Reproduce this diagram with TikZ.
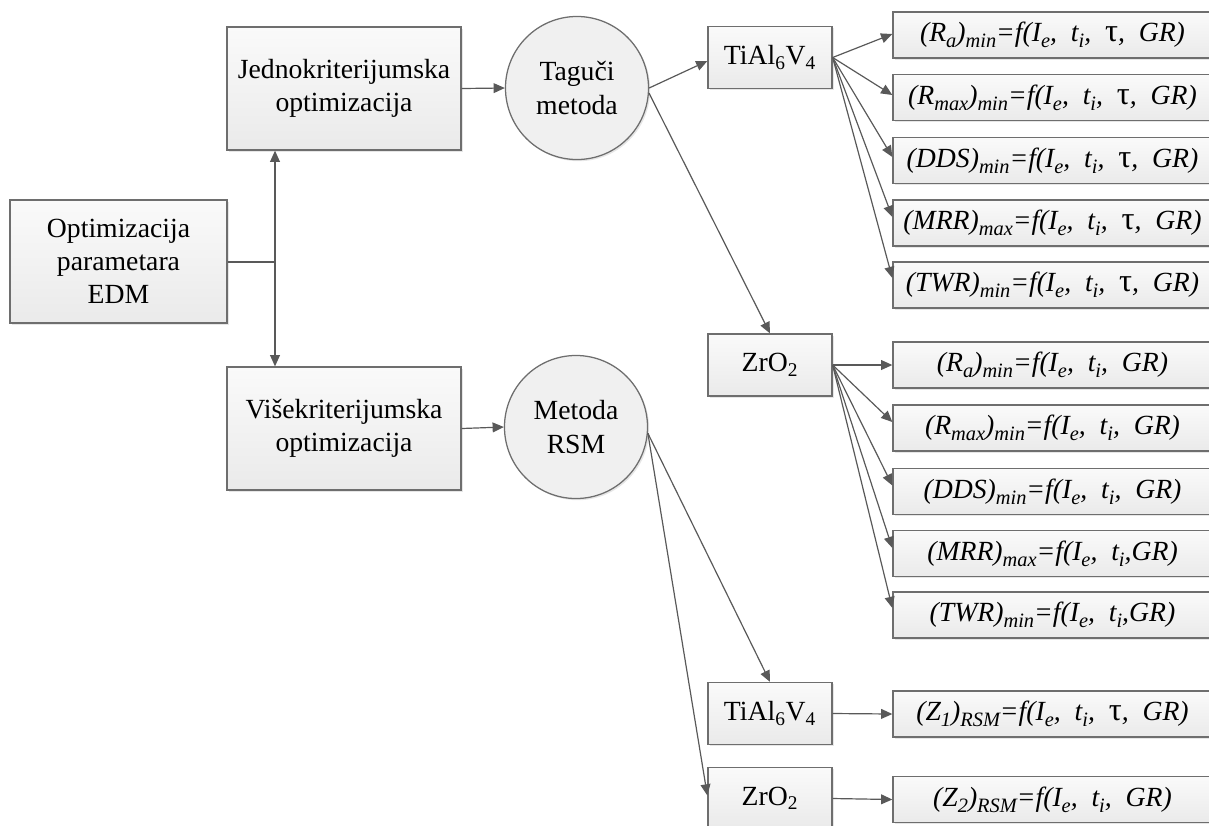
\documentclass[tikz,border=0pt]{standalone}
\usepackage{fontspec}
\setmainfont{Liberation Serif}
\usetikzlibrary{arrows.meta,shadows,calc}
\newcommand\lsb[1]{\raisebox{-0.45ex}{\fontsize{14.5}{15}\selectfont #1}}
\newcommand\wsp{\hspace{0.5em}}
\newcommand\tauu{{\upshape\fontsize{23}{23}\selectfont τ}}
\definecolor{bord}{HTML}{6E6E6E}
\definecolor{arrc}{HTML}{595959}
\definecolor{boxtop}{HTML}{FAFAFA}
\definecolor{boxbot}{HTML}{EAEAEA}
\definecolor{circf}{HTML}{F0F0F0}
\begin{document}
\begin{tikzpicture}[x=0.025cm,y=-0.025cm,
  every node/.style={font=\fontsize{19.7}{23.5}\selectfont},
  box/.style={draw=bord, line width=0.9pt, top color=boxtop, bottom color=boxbot,
    drop shadow={shadow xshift=1.2pt, shadow yshift=-1.2pt, opacity=0.2},
    align=center, inner sep=0pt},
  circ/.style={circle, draw=bord, line width=0.9pt, fill=circf, minimum size=3.575cm,
    inner sep=0pt, align=center,
    drop shadow={shadow xshift=1.2pt, shadow yshift=-1.2pt, opacity=0.2}},
  fbox/.style={box, minimum width=7.975cm, minimum height=1.15cm, font=\fontsize{19.7}{23.5}\selectfont\itshape},
  matbox/.style={box, minimum width=3.1cm, minimum height=1.55cm},
  arr/.style={draw=arrc, line width=0.85pt, -{Triangle[length=8pt,width=7pt]}},
  ln/.style={draw=arrc, line width=0.85pt}]
\useasboundingbox (0,0) rectangle (1209,825);
\clip (0,0) rectangle (1209,825);

% left column
\node[box, minimum width=5.425cm, minimum height=3.075cm] (opt) at (118.5,261.5) {Optimizacija\\parametara\\EDM};
\node[box, minimum width=5.85cm, minimum height=3.075cm] (jed) at (344,88.5) {Jednokriterijumska\\optimizacija};
\node[box, minimum width=5.85cm, minimum height=3.075cm] (vis) at (344,428.5) {Višekriterijumska\\optimizacija};
\coordinate (j) at (275,262);

% methods
\node[circ] (tag) at (577,88) {Taguči\\metoda};
\node[circ] (rsm) at (576,427) {Metoda\\RSM};

% materials
\node[matbox] (ti1) at (770,57.5) {TiAl\textsubscript{6}V\textsubscript{4}};
\node[matbox] (zr1) at (770,365) {ZrO\textsubscript{2}};
\node[matbox] (ti2) at (770,713.5) {TiAl\textsubscript{6}V\textsubscript{4}};
\node[matbox] (zr2) at (770,798.5) {ZrO\textsubscript{2}};

% Taguchi outputs TiAl6V4
\node[fbox] (a1) at (1052.5,35) {(R\lsb{a})\lsb{min}=f(I\lsb{e},\wsp t\lsb{i},\wsp \tauu,\wsp GR)};
\node[fbox] (a2) at (1052.5,97.5) {(R\lsb{max})\lsb{min}=f(I\lsb{e},\wsp t\lsb{i},\wsp \tauu,\wsp GR)};
\node[fbox] (a3) at (1052.5,160.5) {(DDS)\lsb{min}=f(I\lsb{e},\wsp t\lsb{i},\wsp \tauu,\wsp GR)};
\node[fbox] (a4) at (1052.5,223) {(MRR)\lsb{max}=f(I\lsb{e},\wsp t\lsb{i},\wsp \tauu,\wsp GR)};
\node[fbox] (a5) at (1052.5,285) {(TWR)\lsb{min}=f(I\lsb{e},\wsp t\lsb{i},\wsp \tauu,\wsp GR)};

% Taguchi outputs ZrO2
\node[fbox] (b1) at (1052.5,365) {(R\lsb{a})\lsb{min}=f(I\lsb{e},\wsp t\lsb{i},\wsp GR)};
\node[fbox] (b2) at (1052.5,428) {(R\lsb{max})\lsb{min}=f(I\lsb{e},\wsp t\lsb{i},\wsp GR)};
\node[fbox] (b3) at (1052.5,491.5) {(DDS)\lsb{min}=f(I\lsb{e},\wsp t\lsb{i},\wsp GR)};
\node[fbox] (b4) at (1052.5,553.5) {(MRR)\lsb{max}=f(I\lsb{e},\wsp t\lsb{i},GR)};
\node[fbox] (b5) at (1052.5,615) {(TWR)\lsb{min}=f(I\lsb{e},\wsp t\lsb{i},GR)};

% RSM outputs
\node[fbox] (z1) at (1052.5,714) {(Z\lsb{1})\lsb{RSM}=f(I\lsb{e},\wsp t\lsb{i},\wsp \tauu,\wsp GR)};
\node[fbox] (z2) at (1052.5,799.5) {(Z\lsb{2})\lsb{RSM}=f(I\lsb{e},\wsp t\lsb{i},\wsp GR)};

% connectors
\draw[ln] (opt.east |- j) -- (j);
\draw[arr] (j) -- (jed.south -| j);
\draw[arr] (j) -- (vis.north -| j);
\draw[arr] (jed.east) -- (tag.west);
\draw[arr] (vis.east) -- (rsm.west);
\draw[arr] (tag.east) -- ($(ti1.west)+(0,3.5)$);
\draw[arr] (tag.-4) -- (zr1.north);
\draw[arr] (rsm.-5) -- (ti2.north);
\draw[arr] (rsm.-5) -- ($(zr2.west)+(0,-3)$);

\draw[arr] (ti1.east) -- ($(a1.west)+(0,-1)$);
\draw[arr] (ti1.east) -- ($(a2.west)+(0,-2.5)$);
\draw[arr] (ti1.east) -- ($(a3.west)+(0,-3.5)$);
\draw[arr] (ti1.east) -- ($(a4.west)+(0,-6)$);
\draw[arr] (ti1.east) -- ($(a5.west)+(0,-7)$);

\draw[arr] (zr1.east) -- (b1.west);
\draw[arr] (zr1.east) -- ($(b2.west)+(0,-6)$);
\draw[arr] (zr1.east) -- ($(b3.west)+(0,-6)$);
\draw[arr] (zr1.east) -- ($(b4.west)+(0,-5.5)$);
\draw[arr] (zr1.east) -- ($(b5.west)+(0,-7)$);

\draw[arr] (ti2.east) -- (z1.west);
\draw[arr] (zr2.east) -- (z2.west);
\end{tikzpicture}
\end{document}
